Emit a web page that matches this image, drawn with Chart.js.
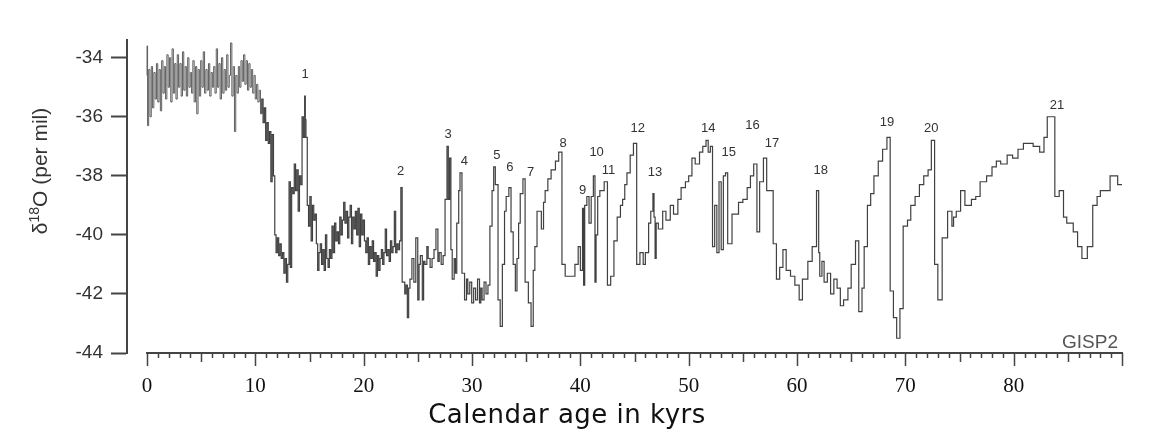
<!DOCTYPE html>
<html>
<head>
<meta charset="utf-8">
<script src="https://cdn.jsdelivr.net/npm/chart.js@4.4.1/dist/chart.umd.min.js"></script>
<style>
  html, body { margin: 0; padding: 0; background: #fff; }
</style>
</head>
<body>
<canvas id="myChart" width="1157" height="434"></canvas>
<script>
// GISP2 delta-18O record (age in kyr, value in per mil)
const holoAge = [0.00,0.05,0.15,0.27,0.39,0.51,0.63,0.75,0.87,0.99,
  1.11,1.23,1.35,1.47,1.59,1.71,1.83,1.95,2.07,2.19,
  2.31,2.43,2.55,2.67,2.79,2.91,3.03,3.15,3.27,3.39,
  3.51,3.63,3.75,3.87,3.99,4.11,4.23,4.35,4.47,4.59,
  4.71,4.83,4.95,5.07,5.19,5.31,5.43,5.55,5.67,5.79,
  5.91,6.03,6.15,6.27,6.39,6.51,6.63,6.75,6.87,6.99,
  7.11,7.23,7.35,7.47,7.59,7.71,7.83,7.95,8.07,8.19,
  8.31,8.43,8.55,8.67,8.79,8.91,9.03,9.15,9.27,9.39,9.51];
const holoD18O = [-34.6,-33.6,-36.3,-34.4,-36.0,-34.3,-35.7,-34.5,-35.4,-34.2,
  -35.5,-34.4,-35.8,-34.1,-35.2,-34.3,-35.4,-33.9,-35.0,-34.0,
  -35.5,-33.7,-35.2,-34.2,-35.4,-33.9,-35.0,-34.2,-35.3,-33.8,
  -35.1,-34.3,-35.3,-34.0,-35.0,-34.5,-35.2,-34.1,-35.5,-34.3,
  -35.9,-34.4,-35.3,-34.1,-35.0,-33.8,-35.2,-34.4,-35.1,-34.2,
  -35.3,-34.5,-35.0,-34.3,-35.2,-33.7,-35.0,-34.2,-35.4,-34.0,
  -35.2,-34.4,-35.1,-33.9,-35.0,-34.6,-33.5,-35.3,-34.3,-36.5,
  -34.6,-35.2,-34.3,-35.0,-34.1,-34.8,-33.9,-34.9,-34.1,-35.1,-34.2];

const deglacAge = [9.63,9.75,9.87,9.99,10.11,10.23,10.35,10.47,10.59,10.71,
  10.83,10.95,11.07,11.19,11.31,11.43,11.55,11.67,11.79,11.91,
  12.03,12.15,12.27,12.39,12.51,12.63,12.75,12.87,12.99,13.11,
  13.23,13.35,13.47,13.59,13.71,13.83,13.95,14.07,14.19,14.31,
  14.43,14.55,14.61,14.67,14.79,14.91,15.03,15.15,15.27,15.39,
  15.51,15.63,15.75,15.87,15.99,16.11,16.23,16.35,16.47,16.59,
  16.71,16.83,16.95,17.07,17.19,17.31,17.43,17.55,17.67,17.79,
  17.91,18.03,18.15,18.27,18.39,18.51,18.63,18.75,18.87,18.99,
  19.11,19.23,19.35,19.47,19.59,19.71,19.83,19.95,20.07,20.19,
  20.31,20.43,20.55,20.67,20.79,20.91,21.03,21.15,21.27,21.39,
  21.51,21.63,21.75,21.87,21.99,22.11,22.23,22.35,22.47,22.59,
  22.71,22.83,22.95,23.07,23.19,23.31,23.43];
const deglacD18O = [-35.0,-34.4,-35.2,-34.6,-35.4,-34.9,-35.5,-35.1,-35.9,-35.4,
  -36.2,-35.7,-36.8,-36.2,-36.9,-36.5,-38.2,-36.6,-38.0,-40.0,
  -40.6,-40.1,-40.7,-40.3,-40.8,-40.6,-41.3,-40.8,-41.6,-41.0,
  -38.2,-41.1,-38.4,-38.6,-37.6,-38.5,-37.8,-39.2,-38.0,-38.3,
  -36.0,-36.7,-35.3,-36.1,-36.7,-39.0,-39.7,-38.7,-40.2,-39.0,
  -39.5,-39.3,-40.3,-41.2,-40.6,-40.3,-41.0,-40.5,-41.2,-40.0,
  -40.8,-41.1,-40.5,-40.8,-39.7,-40.6,-39.6,-40.2,-39.9,-40.3,
  -39.4,-40.0,-39.5,-38.9,-39.6,-39.2,-40.1,-39.4,-39.0,-40.3,
  -39.4,-39.8,-39.2,-40.0,-39.1,-40.4,-39.3,-40.0,-39.5,-40.2,
  -40.6,-40.1,-41.0,-40.4,-40.8,-40.2,-40.9,-40.6,-41.4,-40.7,
  -41.2,-40.8,-40.5,-41.0,-40.6,-39.8,-40.7,-40.5,-40.9,-40.2,
  -40.6,-40.4,-39.2,-40.6,-40.3,-40.5,-40.2];

const midAge = [23.55,23.79,23.91,24.03,24.15,24.27,24.45,24.63,24.81,24.99,
  25.11,25.23,25.41,25.53,25.65,25.83,25.95,26.13,26.31,26.49,
  26.67,26.85,26.97,27.15,27.33,27.51,27.69,27.81,27.93,28.05,
  28.17,28.35,28.47,28.59,28.77,28.89,29.07,29.31,29.49,29.61,
  29.79,29.97,30.15,30.33,30.51,30.69,30.81,30.93,31.11,31.29,
  31.47,31.65,31.85,32.00,32.15,32.40,32.60,32.80,33.00,33.15,
  33.40,33.60,33.80,34.00,34.15,34.30,34.45,34.70,34.90,35.20,
  35.45,35.65,35.80,36.00,36.40,36.60,36.75,37.00,37.30,37.70,
  38.00,38.30,38.60,38.90,39.50,39.80,40.00,40.20,40.30,40.40,
  40.60,40.80,41.00,41.20,41.35,41.45,41.60,41.80,42.20,42.50,
  42.80,43.10,43.40,43.70,43.90,44.10,44.30,44.60,44.90,45.20,
  45.50,45.80,46.00,46.30,46.50,46.70,46.80,46.90,47.00];
const midD18O = [-38.4,-41.6,-42.0,-41.7,-42.8,-41.8,-41.5,-40.8,-41.6,-40.1,
  -42.2,-41.0,-40.7,-42.2,-40.9,-41.0,-40.4,-40.8,-41.1,-40.8,
  -40.5,-39.8,-40.9,-40.6,-41.0,-40.7,-38.8,-37.0,-38.8,-37.4,
  -40.5,-41.5,-40.8,-41.3,-39.6,-38.5,-37.9,-41.3,-42.2,-41.5,
  -42.0,-41.6,-42.3,-41.8,-42.2,-41.5,-42.3,-41.8,-42.2,-41.6,
  -42.0,-41.7,-39.7,-38.5,-37.7,-38.3,-42.2,-43.1,-41.0,-39.2,
  -38.7,-38.4,-39.9,-41.0,-41.9,-40.8,-39.6,-38.6,-38.1,-41.6,
  -42.3,-43.1,-41.2,-40.4,-39.2,-39.8,-38.9,-38.5,-38.1,-37.8,
  -37.5,-37.2,-41.0,-41.4,-41.4,-41.0,-40.4,-41.2,-39.1,-41.7,
  -39.0,-38.7,-39.6,-38.7,-38.0,-41.6,-40.0,-38.7,-38.5,-38.2,
  -41.7,-41.4,-40.2,-39.4,-39.0,-38.8,-38.3,-37.9,-37.3,-36.9,
  -41.0,-40.6,-41.0,-40.6,-39.6,-39.2,-38.6,-39.4,-40.8];

const earlyAge = [47.20,47.60,47.90,48.30,48.60,49.00,49.30,49.70,50.00,50.30,
  50.60,51.00,51.30,51.60,51.80,52.00,52.20,52.40,52.60,52.80,
  53.00,53.20,53.40,53.60,54.00,54.60,55.00,55.40,55.70,56.00,
  56.30,56.55,56.90,57.20,57.80,58.10,58.40,58.70,59.00,59.40,
  59.80,60.20,60.50,61.00,61.40,61.80,62.00,62.10,62.30,62.50,
  62.80,63.10,63.40,63.70,64.00,64.30,64.70,65.00,65.40,65.70,
  66.00,66.20,66.50,66.80,67.10,67.50,67.90,68.30,68.60,68.90,
  69.20,69.50,69.80,70.20,70.50,70.90,71.30,71.70,72.10,72.40,
  72.70,73.00,73.40,73.90,74.30,74.45,74.70,75.10,75.50,76.10,
  76.50,76.90,77.50,78.00,78.40,78.80,79.40,79.90,80.40,80.90,
  81.80,82.40,82.80,83.10,83.80,84.20,84.60,84.90,85.50,85.90,
  86.30,86.80,87.30,87.70,88.00,88.90,89.60,90.10,90.20];
const earlyD18O = [-39.6,-39.8,-39.2,-39.5,-39.0,-39.3,-38.8,-38.4,-38.2,-38.0,
  -37.4,-37.6,-37.2,-37.0,-36.8,-37.2,-37.0,-40.4,-39.0,-40.6,
  -38.2,-40.5,-38.0,-37.9,-40.3,-39.3,-38.9,-38.8,-38.4,-38.0,
  -37.6,-39.9,-38.2,-37.4,-38.5,-40.3,-41.5,-41.1,-40.5,-41.2,
  -41.4,-41.7,-42.2,-41.5,-40.9,-40.4,-38.5,-40.6,-41.4,-40.9,
  -41.6,-41.3,-42.0,-41.5,-41.8,-42.4,-42.2,-41.8,-41.0,-40.2,
  -42.6,-41.8,-40.4,-39.0,-38.6,-38.0,-37.5,-37.1,-36.7,-41.9,
  -42.8,-43.5,-42.5,-39.7,-39.5,-39.0,-38.7,-38.3,-38.0,-37.8,
  -36.8,-41.0,-42.2,-40.1,-39.2,-39.7,-39.4,-39.2,-38.5,-39.0,
  -38.8,-38.7,-38.2,-38.0,-37.7,-37.5,-37.6,-37.3,-37.4,-37.1,
  -36.9,-37.0,-37.2,-36.7,-36.0,-38.7,-38.5,-39.4,-39.6,-39.9,
  -40.4,-40.8,-40.4,-39.0,-38.7,-38.5,-38.0,-38.3,-38.3];

// interstadial numbers and where their labels sit (age kyr, d18O)
const eventNo = ['1','2','3','4','5','6','7','8','9','10','11','12','13','14','15','16','17','18','19','20','21'];
const eventAge = [14.6,23.4,27.8,29.3,32.3,33.5,35.4,38.4,40.2,41.5,42.6,45.3,46.9,51.8,53.7,55.9,57.7,62.2,68.3,72.4,84.0];
const eventLevel = [-34.58,-37.86,-36.6,-37.5,-37.3,-37.7,-37.9,-36.9,-38.5,-37.2,-37.8,-36.4,-37.9,-36.4,-37.2,-36.3,-36.9,-37.8,-36.2,-36.4,-35.6];

const xTicks = [0,10,20,30,40,50,60,70,80];
const yTicks = [-44,-42,-40,-38,-36,-34];

const ageKyr = holoAge.concat(deglacAge, midAge, earlyAge);
const d18O = holoD18O.concat(deglacD18O, midD18O, earlyD18O);

const figureExtras = {
  id: 'figureExtras',
  afterDraw(chart) {
    const ctx = chart.ctx;
    const xs = chart.scales.x;
    const ys = chart.scales.y;
    const y0 = chart.chartArea.bottom;
    ctx.save();
    // time axis, starting at 0 kyr
    ctx.strokeStyle = '#444';
    ctx.lineWidth = 2;
    ctx.beginPath();
    ctx.moveTo(xs.getPixelForValue(0) - 1, y0);
    ctx.lineTo(xs.getPixelForValue(90) + 1, y0);
    ctx.stroke();
    ctx.lineWidth = 1.5;
    ctx.beginPath();
    for (let k = 0; k <= 90; k++) {
      const px = Math.round(xs.getPixelForValue(k)) + 0.5;
      const len = k % 10 === 0 ? 13 : (k % 5 === 0 ? 9 : 5);
      ctx.moveTo(px, y0);
      ctx.lineTo(px, y0 + len);
    }
    ctx.stroke();

    // event numbers
    ctx.fillStyle = '#333';
    ctx.font = '13px "Liberation Sans", Arial, sans-serif';
    ctx.textAlign = 'center';
    ctx.textBaseline = 'middle';
    eventNo.forEach((n, i) => {
      ctx.fillText(n, xs.getPixelForValue(eventAge[i]), ys.getPixelForValue(eventLevel[i]));
    });

    // core name
    ctx.fillStyle = '#555';
    ctx.font = '19px "Liberation Sans", Arial, sans-serif';
    ctx.textAlign = 'right';
    ctx.textBaseline = 'alphabetic';
    ctx.fillText('GISP2', 1118, 348);

    // x title
    ctx.fillStyle = '#111';
    ctx.font = '26px "DejaVu Sans", sans-serif';
    ctx.letterSpacing = '0.5px';
    ctx.textAlign = 'center';
    ctx.fillText('Calendar age in kyrs', 567, 423);
    ctx.letterSpacing = '0px';

    // y title with superscript
    ctx.translate(47, 171);
    ctx.rotate(-Math.PI / 2);
    ctx.fillStyle = '#333';
    const big = '21px "Liberation Sans", Arial, sans-serif';
    const sup = '14px "Liberation Sans", Arial, sans-serif';
    ctx.font = big;
    const w1 = ctx.measureText('\u03b4').width;
    const w3 = ctx.measureText('O (per mil)').width;
    ctx.font = sup;
    const w2 = ctx.measureText('18').width;
    let xp = -(w1 + w2 + w3) / 2;
    ctx.textAlign = 'left';
    ctx.font = big;
    ctx.fillText('\u03b4', xp, 0);
    xp += w1;
    ctx.font = sup;
    ctx.fillText('18', xp, -8);
    xp += w2;
    ctx.font = big;
    ctx.fillText('O (per mil)', xp, 0);
    ctx.restore();
  }
};

const ctx = document.getElementById('myChart').getContext('2d');
const mychart = new Chart(ctx, {
  type: 'line',
  data: {
    datasets: [{
      data: ageKyr.map((a, i) => ({ x: a, y: d18O[i] })),
      stepped: 'after',
      borderColor: '#404040',
      borderWidth: 1.2,
      pointRadius: 0,
      fill: false,
      segment: {
        // the dense Holocene part reads as a grey band in the print
        borderColor: c => c.p0.parsed.x < 10.5 ? '#5e5e5e' : '#404040',
        borderWidth: c => c.p0.parsed.x < 10.5 ? 1 : 1.2
      }
    }]
  },
  options: {
    responsive: false,
    devicePixelRatio: 1,
    animation: false,
    layout: { padding: { top: 40, right: 35, left: 0, bottom: 0 } },
    plugins: { legend: { display: false }, tooltip: { enabled: false } },
    scales: {
      x: {
        type: 'linear',
        min: -1.85,
        max: 90,
        afterBuildTicks: s => { s.ticks = xTicks.map(v => ({ value: v })); },
        afterFit: s => { s.height = 81; },
        border: { display: false },
        grid: { display: false, drawTicks: false },
        ticks: {
          padding: 21,
          color: '#111',
          maxRotation: 0,
          autoSkip: false,
          font: { family: '"Liberation Serif", "Times New Roman", serif', size: 21 }
        }
      },
      y: {
        min: -44,
        max: -33.4,
        afterBuildTicks: s => { s.ticks = yTicks.map(v => ({ value: v })); },
        afterFit: s => { s.width = 127; },
        border: { display: true, color: '#444', width: 2 },
        grid: { drawOnChartArea: false, drawTicks: true, tickLength: 16, tickColor: '#444', tickWidth: 2 },
        ticks: {
          padding: 8,
          color: '#333',
          callback: v => String(v),
          font: { family: '"Liberation Sans", Arial, sans-serif', size: 19 }
        }
      }
    }
  },
  plugins: [figureExtras]
});
</script>
</body>
</html>
